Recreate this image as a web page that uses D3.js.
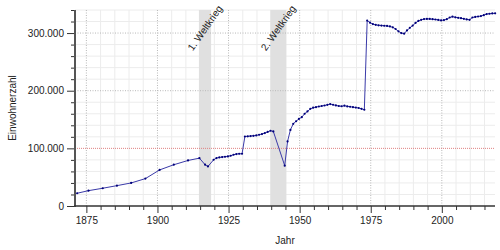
<!DOCTYPE html>
<html>
<head>
<meta charset="utf-8">
<script src="https://cdn.jsdelivr.net/npm/d3@7"></script>
<style>
  html, body { margin: 0; padding: 0; background: #fff; }
  svg { display: block; font-family: "Liberation Sans", Arial, sans-serif; }
</style>
</head>
<body>
<svg id="chart" width="500" height="250"></svg>
<script>
// ---- data (Einwohnerzahl by year) ----
const years = [
  1871, 1875, 1880, 1885, 1890, 1895, 1900, 1905, 1910, 1914, 1916, 1917,
  1919, 1920, 1921, 1922, 1923, 1924, 1925, 1926, 1927, 1928, 1929,
  1930, 1931, 1932, 1933, 1934, 1935, 1936, 1937, 1938, 1939, 1940,
  1944, 1945, 1946, 1947, 1948, 1949,
  1950, 1951, 1952, 1953, 1954, 1955, 1956, 1957, 1958, 1959,
  1960, 1961, 1962, 1963, 1964, 1965, 1966, 1967, 1968, 1969,
  1970, 1971, 1972, 1973, 1974, 1975, 1976, 1977, 1978, 1979,
  1980, 1981, 1982, 1983, 1984, 1985, 1986, 1987, 1988, 1989,
  1990, 1991, 1992, 1993, 1994, 1995, 1996, 1997, 1998, 1999,
  2000, 2001, 2002, 2003, 2004, 2005, 2006, 2007, 2008, 2009,
  2010, 2011, 2012, 2013, 2014, 2015, 2016, 2017, 2018
];
const population = [
  22100, 26600, 30800, 35300, 40000, 47500, 62600, 71600, 79000, 83000, 71600, 68600,
  80200, 83200, 84200, 84900, 85400, 86000, 87200, 88900, 90100, 90600, 90600,
  120600, 120800, 121300, 121800, 122400, 123600, 124800, 126500, 128500, 130500, 129300,
  70000, 112000, 132000, 142600, 147000, 151000,
  154000, 160000, 164000, 168500, 170500, 171500, 172600, 173500, 174300, 175500,
  176800, 175600, 174500, 173500, 173000, 174000, 172800, 172200, 171500, 170800,
  170000, 168600, 167000, 321700, 318000, 315500, 314200, 313500, 313000, 312700,
  312300, 311500, 310000, 307000, 303000, 300000, 299000, 304500, 309000, 313000,
  317500, 321000, 323000, 324200, 324600, 324500, 324000, 323500, 322800, 322000,
  322500, 324000, 327000, 328500, 327300, 326500, 325800, 324700, 323700, 323000,
  327000, 328000, 328700, 329500, 331000, 333000, 333500, 334000, 334200
];
const warNames = ["1. Weltkrieg", "2. Weltkrieg"];
const warStart = [1914.58, 1939.67];
const warEnd   = [1918.86, 1945.35];
const xTickValues = [1875, 1900, 1925, 1950, 1975, 2000];
const yTickValues = [0, 100000, 200000, 300000];
const referenceValue = 100000;
const xLabel = "Jahr";
const yLabel = "Einwohnerzahl";
const dateOffset = 0.75; // position of the count within its year

// ---- layout ----
const svg = d3.select("#chart");
const W = 500, H = 250;
const m = { left: 75, right: 5, top: 10, bottom: 44 };
const x = d3.scaleLinear().domain([1871, 2018.7]).range([m.left, W - m.right]);
const y = d3.scaleLinear().domain([0, 340000]).range([H - m.bottom, m.top]);
const pw = W - m.left - m.right, ph = H - m.top - m.bottom;
const fmt = v => d3.format(",")(v).replace(/,/g, ".");

const data = years.map((yr, i) => ({ year: yr, value: population[i] }));

// minor grid
const minorX = d3.range(1875, 2019, 5).filter(v => v % 25 !== 0);
const minorY = d3.range(20000, 340001, 20000).filter(v => v % 100000 !== 0);
const g = svg.append("g");
g.selectAll(".mgx").data(minorX).join("line")
  .attr("x1", d => x(d)).attr("x2", d => x(d))
  .attr("y1", m.top).attr("y2", H - m.bottom)
  .attr("stroke", "#ececec").attr("stroke-width", 1);
g.selectAll(".mgy").data(minorY).join("line")
  .attr("x1", m.left).attr("x2", W - m.right)
  .attr("y1", d => y(d)).attr("y2", d => y(d))
  .attr("stroke", "#ececec").attr("stroke-width", 1);

// war bands
g.selectAll(".band").data(warNames).join("rect")
  .attr("x", (d, i) => x(warStart[i]))
  .attr("width", (d, i) => x(warEnd[i]) - x(warStart[i]))
  .attr("y", m.top).attr("height", ph)
  .attr("fill", "#e0e0e0");

// major grid
g.selectAll(".gx").data(xTickValues).join("line")
  .attr("x1", d => x(d)).attr("x2", d => x(d))
  .attr("y1", m.top).attr("y2", H - m.bottom)
  .attr("stroke", "#b8b8b8").attr("stroke-width", 1).attr("stroke-dasharray", "1,1.5");
g.selectAll(".gy").data(yTickValues.filter(v => v !== 0 && v !== referenceValue)).join("line")
  .attr("x1", m.left).attr("x2", W - m.right)
  .attr("y1", d => y(d)).attr("y2", d => y(d))
  .attr("stroke", "#b8b8b8").attr("stroke-width", 1).attr("stroke-dasharray", "1,1.5");

// reference line
g.append("line")
  .attr("x1", m.left).attr("x2", W - m.right)
  .attr("y1", y(referenceValue)).attr("y2", y(referenceValue))
  .attr("stroke", "#e08080").attr("stroke-width", 1).attr("stroke-dasharray", "1,1");

// war labels
g.selectAll(".wl").data(warNames).join("text")
  .attr("transform", (d, i) => `translate(${x((warStart[i] + warEnd[i]) / 2)},${m.top + 18}) rotate(-55)`)
  .attr("text-anchor", "middle").attr("dy", "0.35em")
  .attr("font-size", 10).attr("fill", "#222")
  .text(d => d);

// axes
const xAxisMinor = d3.axisBottom(x).tickValues(minorX).tickSize(4).tickFormat("");
const xAxis = d3.axisBottom(x).tickValues(xTickValues).tickSize(7).tickPadding(4).tickFormat(d3.format("d"));
const yAxisMinor = d3.axisLeft(y).tickValues(minorY.concat([320000, 340000].filter(v => !minorY.includes(v)))).tickSize(4).tickFormat("");
const yAxis = d3.axisLeft(y).tickValues(yTickValues).tickSize(8).tickPadding(3).tickFormat(fmt);

function styleAxis(sel) {
  sel.select(".domain").remove();
  sel.selectAll(".tick line").attr("stroke", "#333");
  sel.selectAll("text").attr("font-size", 10).attr("fill", "#222")
    .attr("font-family", "Liberation Sans, Arial, sans-serif");
}
svg.append("g").attr("transform", `translate(0,${H - m.bottom})`).call(xAxisMinor).call(styleAxis);
svg.append("g").attr("transform", `translate(0,${H - m.bottom})`).call(xAxis).call(styleAxis);
svg.append("g").attr("transform", `translate(${m.left},0)`).call(yAxisMinor).call(styleAxis);
svg.append("g").attr("transform", `translate(${m.left},0)`).call(yAxis).call(styleAxis);

// axis lines
svg.append("line").attr("x1", m.left).attr("x2", m.left)
  .attr("y1", m.top).attr("y2", H - m.bottom + 1)
  .attr("stroke", "#555").attr("stroke-width", 2);
svg.append("line").attr("x1", m.left - 1).attr("x2", W - m.right)
  .attr("y1", H - m.bottom).attr("y2", H - m.bottom)
  .attr("stroke", "#333").attr("stroke-width", 1.5);

// axis titles
svg.append("text").attr("x", m.left + pw / 2).attr("y", 244)
  .attr("text-anchor", "middle").attr("font-size", 10).attr("fill", "#222").text(xLabel);
svg.append("text").attr("transform", `translate(12,${m.top + ph / 2}) rotate(-90)`)
  .attr("text-anchor", "middle").attr("dy", "0.35em").attr("font-size", 10).attr("fill", "#222").text(yLabel);

// line + markers
const line = d3.line().x(d => x(d.year + dateOffset)).y(d => y(d.value));
svg.append("path").datum(data)
  .attr("d", line).attr("fill", "none")
  .attr("stroke", "#3a3aa8").attr("stroke-width", 1);
svg.selectAll(".pt").data(data).join("circle")
  .attr("cx", d => x(d.year + dateOffset)).attr("cy", d => y(d.value))
  .attr("r", 1.1).attr("fill", "#00007a");
</script>
</body>
</html>
